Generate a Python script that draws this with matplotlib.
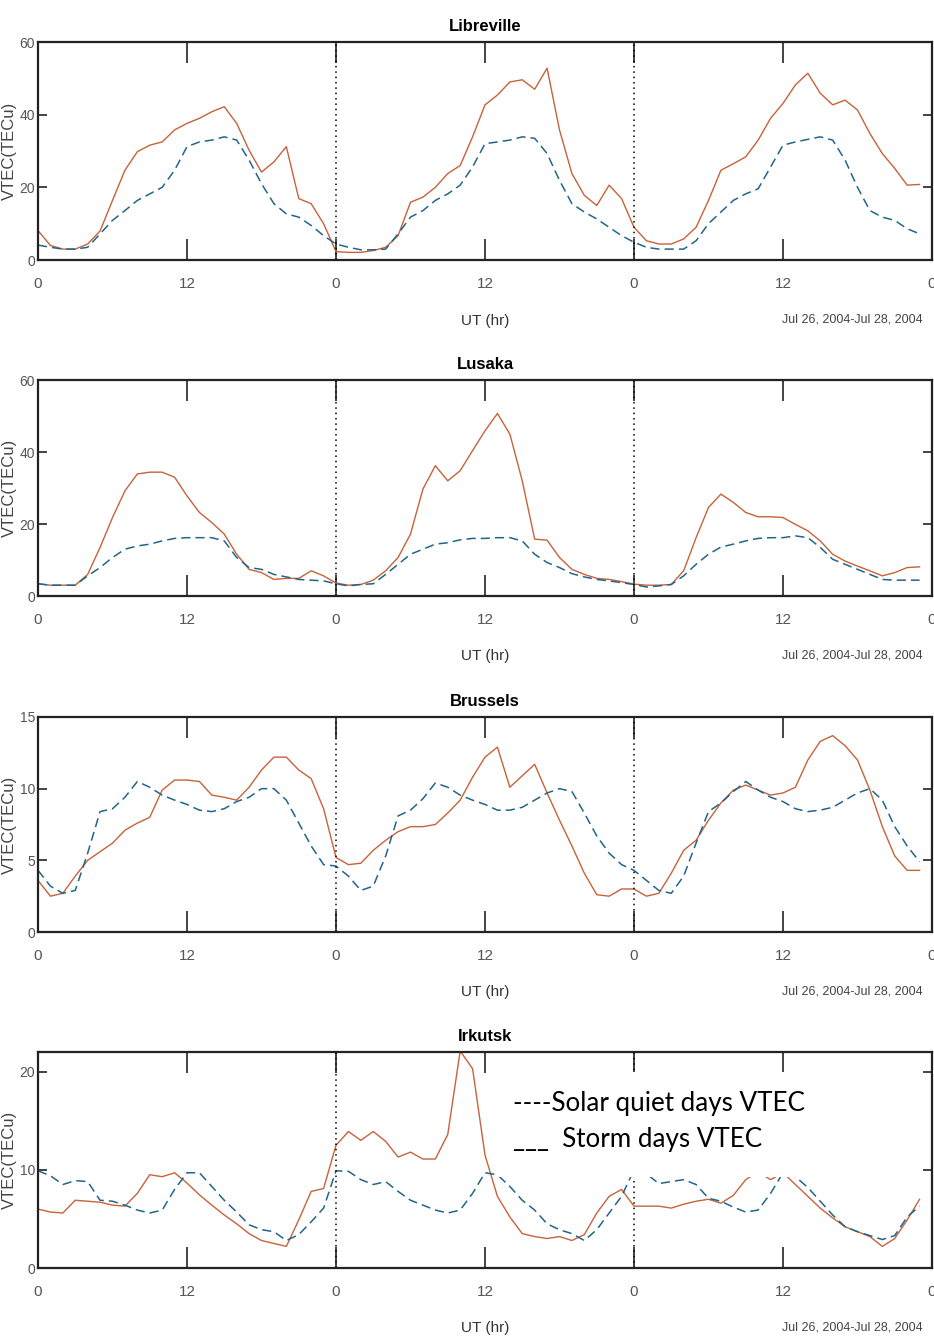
"""VTEC storm days vs solar quiet days, four stations, Jul 26-28 2004"""

import numpy as np
from matplotlib import pyplot as plt
from matplotlib.patches import Rectangle

plt.rcParams["font.family"] = ["Liberation Sans Narrow", "Liberation Sans", "DejaVu Sans"]

stations = ["Libreville", "Lusaka", "Brussels", "Irkutsk"]
hours = np.arange(72)
x_ticks = [0, 12, 24, 36, 48, 60, 72]
x_tick_labels = ["0", "12", "0", "12", "0", "12", "0"]
date_range = "Jul 26, 2004-Jul 28, 2004"

storm_libreville = [
    8.1, 4, 3, 3, 4.4, 8, 16.4, 24.7, 29.8, 31.6, 32.5, 35.8, 37.6, 39, 40.8, 42.2, 37.6, 30.2, 24.2, 27, 31.2, 16.9, 15.5, 10,
    2.3, 2.1, 2.1, 2.6, 3.5, 6.7, 15.9, 17.3, 20, 23.8, 26, 33.9, 42.7, 45.4, 49, 49.6, 47, 52.8, 35.8, 23.8, 17.8, 15, 20.6, 16.9,
    9, 5.3, 4.4, 4.4, 5.8, 9, 16.4, 24.7, 26.5, 28.4, 33, 39, 43.1, 48.2, 51.4, 45.9, 42.7, 44, 41.3, 34.8, 29.3, 25.2, 20.6, 20.8,
]
quiet_libreville = [
    4.1, 3.5, 3, 3, 3.5, 7.2, 10.9, 13.6, 16.4, 18.2, 20, 24.7, 31.2, 32.5, 33, 33.9, 33, 27.5, 21, 15.5, 12.7, 11.8, 9.5, 6.7,
    4.4, 3.5, 2.8, 2.8, 3, 7.2, 11.8, 13.6, 16.4, 18.2, 20.6, 25.6, 32, 32.5, 33, 33.9, 33.5, 29.3, 21.9, 15.5, 13.2, 11.3, 9, 6.7,
    4.9, 3.5, 3, 3, 3, 5.3, 10, 13.2, 16.4, 18.2, 19.6, 25.6, 31.6, 32.5, 33.2, 33.9, 33, 27.5, 20, 13.6, 11.8, 10.9, 8.6, 7.2,
]
storm_lusaka = [
    3.4, 3, 3, 3, 6, 13.5, 21.8, 29.2, 33.9, 34.4, 34.4, 33, 27.8, 23.2, 20.4, 17.2, 11.6, 7.4, 6.5, 4.6, 4.9, 4.9, 7, 5.6,
    3.6, 3, 3.2, 4.4, 7, 10.7, 17.2, 29.7, 36.2, 32, 34.8, 40.4, 45.9, 50.7, 45, 32, 15.8, 15.5, 10.7, 7.4, 6, 4.9, 4.6, 4,
    3.3, 3, 3, 3.2, 7, 16.2, 24.6, 28.3, 26, 23.2, 22, 22, 21.8, 19.9, 18.1, 15.3, 11.6, 9.7, 8.3, 7, 5.6, 6.5, 7.9, 8.1,
]
quiet_lusaka = [
    3.4, 3, 3, 3, 5.6, 7.9, 10.7, 13, 13.9, 14.4, 15.3, 16, 16.2, 16.2, 16.2, 15.3, 10.7, 7.9, 7.4, 6, 5.3, 4.6, 4.4, 4.2,
    3.4, 2.8, 3.2, 3.4, 6, 8.8, 11.6, 13, 14.4, 14.8, 15.6, 16, 16, 16.2, 16.2, 15.3, 11.6, 9.3, 7.9, 6.2, 5.3, 4.6, 4.2, 3.7,
    3.2, 2.5, 2.8, 3.2, 5.6, 8.8, 11.6, 13.6, 14.4, 15.3, 16, 16.2, 16.2, 16.7, 16.2, 13.5, 10.2, 8.8, 7.4, 6, 4.6, 4.4, 4.4, 4.4,
]
storm_brussels = [
    3.6, 2.5, 2.7, 3.9, 5.0, 5.6, 6.2, 7.1, 7.6, 8.0, 9.9, 10.6, 10.6, 10.5, 9.55, 9.4, 9.2, 10.1, 11.3, 12.2, 12.2, 11.3, 10.7, 8.6,
    5.2, 4.7, 4.8, 5.7, 6.4, 7.0, 7.35, 7.35, 7.5, 8.3, 9.2, 10.8, 12.2, 12.9, 10.1, 10.9, 11.7, 9.7, 7.8, 6.0, 4.1, 2.6, 2.5, 3.0,
    3.0, 2.5, 2.7, 4.1, 5.7, 6.4, 7.8, 9.0, 9.9, 10.25, 9.9, 9.55, 9.7, 10.1, 12, 13.3, 13.7, 13.0, 12, 9.9, 7.35, 5.3, 4.3, 4.3,
]
quiet_brussels = [
    4.3, 3.2, 2.7, 2.9, 5.5, 8.4, 8.6, 9.4, 10.5, 10.1, 9.55, 9.2, 8.9, 8.5, 8.4, 8.6, 9.1, 9.4, 10, 10, 9.2, 7.6, 6, 4.7,
    4.6, 3.9, 2.9, 3.2, 5.3, 8.1, 8.5, 9.3, 10.4, 10.1, 9.55, 9.2, 8.9, 8.5, 8.5, 8.7, 9.2, 9.7, 10, 9.8, 8.3, 6.7, 5.5, 4.7,
    4.3, 3.6, 2.9, 2.7, 3.9, 6.2, 8.4, 9.0, 9.8, 10.5, 9.9, 9.4, 9.1, 8.6, 8.4, 8.5, 8.7, 9.2, 9.7, 10, 9.2, 7.35, 6, 4.9,
]
storm_irkutsk = [
    6.0, 5.7, 5.6, 6.9, 6.8, 6.7, 6.4, 6.3, 7.6, 9.5, 9.3, 9.7, 8.65, 7.45, 6.4, 5.4, 4.5, 3.5, 2.8, 2.5, 2.2, 4.9, 7.8, 8.1,
    12.5, 13.9, 13, 13.9, 12.9, 11.3, 11.8, 11.1, 11.1, 13.6, 22.1, 20.3, 11.5, 7.3, 5.2, 3.5, 3.2, 3.0, 3.2, 2.8, 3.4, 5.6, 7.3, 8.0,
    6.3, 6.3, 6.3, 6.1, 6.5, 6.8, 7.0, 6.6, 7.4, 9.0, 9.8, 9.0, 9.7, 8.5, 7.3, 6.1, 5.1, 4.2, 3.7, 3.2, 2.2, 3.0, 4.9, 7.0,
]
quiet_irkutsk = [
    9.9, 9.4, 8.5, 8.9, 8.8, 6.9, 6.8, 6.4, 5.9, 5.6, 5.9, 8.0, 9.7, 9.7, 8.3, 6.9, 5.7, 4.4, 3.9, 3.7, 2.8, 3.4, 4.7, 6.1,
    9.9, 9.85, 9.0, 8.5, 8.8, 7.8, 6.9, 6.4, 5.9, 5.6, 5.9, 7.6, 9.7, 9.5, 8.3, 6.9, 5.9, 4.5, 3.9, 3.5, 2.8, 3.9, 5.6, 7.3,
    10, 9.6, 8.6, 8.8, 9.0, 8.5, 7.1, 6.8, 6.2, 5.7, 5.9, 7.6, 9.7, 9.3, 8.2, 6.8, 5.4, 4.2, 3.7, 3.3, 2.9, 3.3, 5.2, 6.3,
]

storm = [storm_libreville, storm_lusaka, storm_brussels, storm_irkutsk]
quiet = [quiet_libreville, quiet_lusaka, quiet_brussels, quiet_irkutsk]
y_limits = [60, 60, 15, 22]
y_ticks = [[0, 20, 40, 60], [0, 20, 40, 60], [0, 5, 10, 15], [0, 10, 20]]

W, H = 934, 1344
fig = plt.figure(figsize=(W / 100, H / 100), dpi=100)

# axes boxes in pixels: (top, bottom)
panel_px = [(42, 260), (380, 596), (717, 932), (1052, 1268)]
left_px, right_px = 38, 932

storm_colour = "#c8623a"
quiet_colour = "#21658a"

for i, name in enumerate(stations):
    top, bottom = panel_px[i]
    ax = fig.add_axes([left_px / W, 1 - bottom / H, (right_px - left_px) / W, (bottom - top) / H])

    ax.plot(hours, storm[i], color=storm_colour, lw=1.0)
    ax.plot(hours, quiet[i], color=quiet_colour, lw=1.1, dashes=(6, 3.3))
    for day in (24, 48):
        ax.axvline(day, color="black", lw=1.1, ls=(0, (1, 2.5)))

    ax.set_xlim(0, 72)
    ax.set_ylim(0, y_limits[i])
    ax.set_xticks(x_ticks)
    ax.set_xticklabels(x_tick_labels)
    ax.set_yticks(y_ticks[i])

    ax.tick_params(axis="x", direction="in", length=15, width=1.2, top=True,
                   labelsize=11, pad=12, colors="#222222", labelcolor="#555555")
    ax.tick_params(axis="y", direction="in", length=6.5, width=1.2, right=True,
                   labelsize=10, pad=2, colors="#222222", labelcolor="#555555")
    for spine in ax.spines.values():
        spine.set_linewidth(1.6)
        spine.set_color("#222222")

    ax.set_title(name, fontsize=12, fontweight="bold", pad=8)
    ax.set_ylabel("VTEC(TECu)", fontsize=12, color="#444444",
                  family=["Liberation Sans", "DejaVu Sans"])
    ax.yaxis.set_label_coords(-0.0235, 0.5)
    ax.text(0.5, -0.28, "UT (hr)", transform=ax.transAxes, ha="center", va="center",
            fontsize=11, color="#333333")
    ax.text(0.99, -0.275, date_range, transform=ax.transAxes, ha="right", va="center",
            fontsize=9, color="#444444")

# hand-made legend pasted over the last panel
fig.add_artist(Rectangle((497 / W, 1 - 1177 / H), (860 - 497) / W, (1177 - 1072) / H,
                         transform=fig.transFigure, facecolor="white", edgecolor="none", zorder=5))
fig.text(513 / W, 1 - 1103 / H, "----Solar quiet days VTEC", fontsize=18.7,
         family=["Lato", "DejaVu Sans"], va="center", ha="left", zorder=6)
fig.text(513 / W, 1 - 1140 / H, "___  Storm days VTEC", fontsize=18.7,
         family=["Lato", "DejaVu Sans"], va="center", ha="left", zorder=6)

fig.savefig("out.png", dpi=100)
